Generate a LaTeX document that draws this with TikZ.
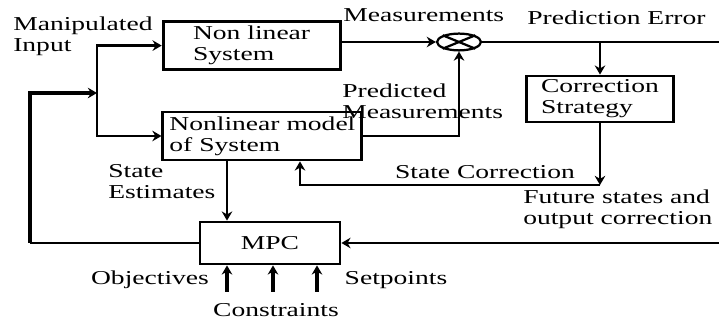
\documentclass[tikz,border=0pt]{standalone}
\usepackage{fontspec}
\setmainfont[FakeStretch=1.4]{Liberation Serif}
\usetikzlibrary{arrows.meta}
\usetikzlibrary{shapes.geometric}

\begin{document}
\begin{tikzpicture}[>={Stealth[length=6.5pt,width=7.5pt]},
    every node/.style={font=\fontsize{14}{15}\selectfont},
    blk/.style={draw, line width=2pt, align=left, inner sep=2pt},
    lbl/.style={align=left, inner sep=0pt},
    conn/.style={line width=1.6pt},
    fat/.style={line width=2.4pt}]
    \useasboundingbox (0,0) rectangle (17.975,8);
    % blocks
    \node [blk, minimum width=4.425cm, minimum height=1.2cm] (sys) at (6.29,6.86) {Non linear\\System};
    \node [blk, minimum width=4.975cm, minimum height=1.2cm] (model) at (6.56,4.6) {Nonlinear model\\of System};
    \node [blk, minimum width=3.675cm, minimum height=1.15cm] (corr) at (15.0,5.525) {Correction\\Strategy};
    \node [blk, minimum width=3.5cm, minimum height=1.05cm] (mpc) at (6.75,1.925) {MPC};
    \node [draw, ellipse, line width=1.6pt, minimum width=1.1cm, minimum height=0.42cm, inner sep=0pt] (sum) at (11.475,6.95) {};
    \draw [line width=1.6pt] (sum.north west) -- (sum.south east);
    \draw [line width=1.6pt] (sum.south west) -- (sum.north east);
    % labels
    \node [lbl, anchor=west] (manip) at (0.325,7.1) {Manipulated\\Input};
    \node [lbl, anchor=west] (meas) at (8.58,7.63) {Measurements};
    \node [lbl, anchor=west] (perr) at (13.175,7.55) {Prediction Error};
    \node [lbl, anchor=west] (pmeas) at (8.55,5.47) {Predicted\\Measurements};
    \node [lbl, anchor=west] (est) at (2.7,3.45) {State\\Estimates};
    \node [lbl] (scorr) at (12.125,3.7) {State Correction};
    \node [lbl, anchor=west] (fut) at (13.075,2.775) {Future states and\\output correction};
    \node [lbl] (obj) at (3.75,1.0) {Objectives};
    \node [lbl] (setp) at (9.9,1.0) {Setpoints};
    \node [lbl] (cons) at (6.9,0.25) {Constraints};
    % connectors
    \coordinate (split) at (2.425,5.675);
    \coordinate (fb) at (0.75,5.675);
    \coordinate (out) at (17.975,6.95);
    \coordinate (tap) at (15.0,6.95);
    \coordinate (sc) at (15.0,3.375);
    \coordinate (scx) at (7.5,0);
    \coordinate (estx) at (5.675,0);
    \coordinate (fin) at (17.975,1.925);
    \draw [conn,->] (split) |- (sys.west);
    \draw [conn,->] (split) |- (model.west);
    \draw [conn] (mpc.west) -- (mpc.west -| fb);
    \draw [fat,->] (mpc.west -| fb) -- (fb) -- (split);
    \draw [conn,->] (sum.west -| sys.east) -- (sum.west);
    \draw [conn] (sum.east) -- (out);
    \draw [conn,->] (tap) -- (tap |- corr.north);
    \draw [conn,->] (model.east) -| (sum.south);
    \draw [conn,->] (corr.south) -- (sc);
    \draw [conn,->] (sc) -| (scx |- model.south);
    \draw [conn,->] (estx |- model.south) -- (estx |- mpc.north);
    \draw [conn,->] (fin) -- (mpc.east);
    \foreach \x/\n in {5.675/obj, 6.825/con, 7.925/set} {
        \coordinate (in\n) at (\x,0.7);
        \draw [fat,->] (in\n) -- (in\n |- mpc.south);
    }
\end{tikzpicture}
\end{document}
